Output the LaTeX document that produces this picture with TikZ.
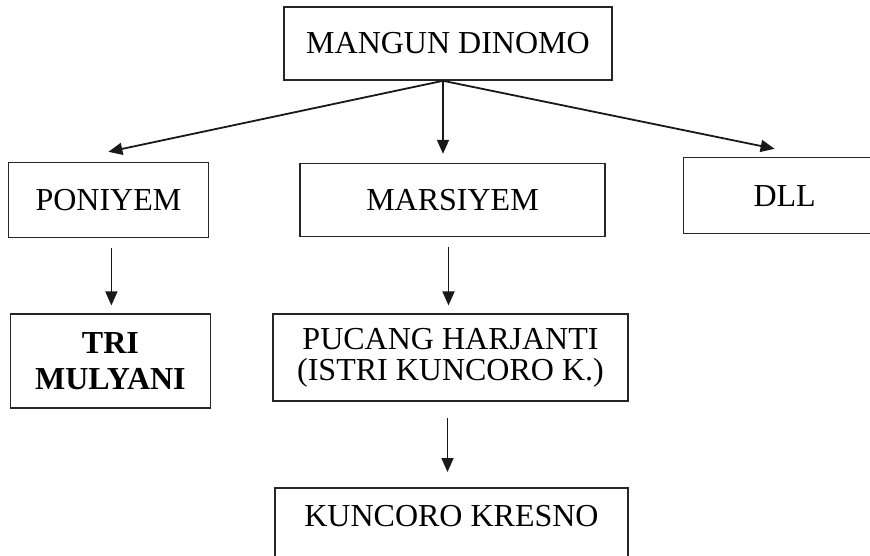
\documentclass[tikz,border=0pt]{standalone}
\usepackage{fontspec}
\setmainfont{Liberation Serif}
\usepackage{tikz}
\usetikzlibrary{positioning, arrows.meta}

\begin{document}
\begin{tikzpicture}[
  x=1pt, y=1pt,
  box/.style={draw=black!85, line width=1.6pt, inner sep=2pt, align=center, font=\fontsize{32}{35}\selectfont},
  arrow/.style={-{Triangle[length=14pt, width=12pt]}, line width=1.8pt, draw=black!90},
]
  \useasboundingbox (0,0) rectangle (870,-556);

  % Top
  \node[box, minimum width=328pt, minimum height=73pt] (mangun) at (448,-43.5) {MANGUN DINOMO};

  % Children
  \node[box, minimum width=305pt, minimum height=73pt, below=82pt of mangun, xshift=4.5pt] (marsiyem) {MARSIYEM};
  \node[box, minimum width=200pt, minimum height=75pt, left=90pt of marsiyem] (poniyem) {PONIYEM};
  \node[box, minimum width=202pt, minimum height=76pt, right=77pt of marsiyem, yshift=4.5pt] (dll) {DLL};

  % Grandchildren
  \node[box, minimum width=200pt, minimum height=94pt, below=75pt of poniyem, xshift=2pt, font=\fontsize{32}{36}\selectfont\bfseries] (tri) {TRI\\MULYANI};
  \node[box, minimum width=355pt, minimum height=87pt, below=76pt of marsiyem, xshift=-2pt, font=\fontsize{32}{31}\selectfont] (pucang) {PUCANG HARJANTI\\(ISTRI KUNCORO K.)};
  \node[box, minimum width=353pt, text height=37pt, text depth=41pt, below=85pt of pucang, xshift=1pt] (kuncoro) {KUNCORO KRESNO};

  % Fan out from the top box
  \coordinate (fork) at ([xshift=-5pt]mangun.south);
  \draw[arrow] (fork) -- ([yshift=10pt]poniyem.north);
  \draw[arrow] (fork) -- ([yshift=9pt]fork |- marsiyem.north);
  \draw[arrow] (fork) -- ([xshift=-10pt, yshift=8pt]dll.north);

  % Down the lines
  \draw[arrow, shorten <=10pt, shorten >=8pt] ([xshift=3pt]poniyem.south) -- ([xshift=3pt]poniyem.south |- tri.north);
  \draw[arrow, shorten <=10pt, shorten >=8pt] ([xshift=-4pt]marsiyem.south) -- ([xshift=-4pt]marsiyem.south |- pucang.north);
  \draw[arrow, shorten <=16pt, shorten >=15pt] ([xshift=-3pt]pucang.south) -- ([xshift=-3pt]pucang.south |- kuncoro.north);

\end{tikzpicture}
\end{document}
